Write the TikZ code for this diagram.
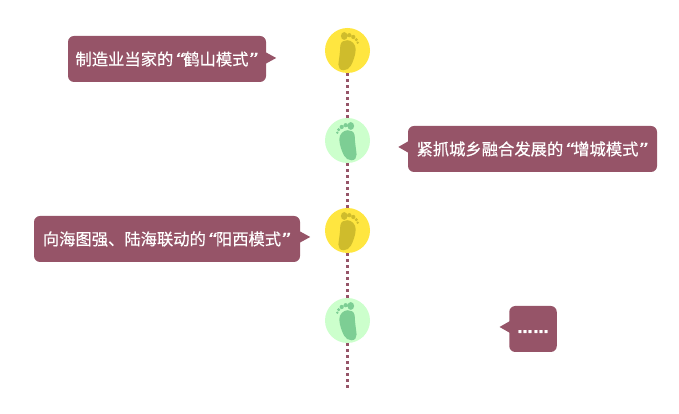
\documentclass[tikz,border=0pt]{standalone}
\usepackage{fontspec}
\newfontfamily\cjk[FakeBold=0.4]{Noto Sans CJK SC}
\newfontfamily\quotefont[FakeBold=0.4]{Liberation Sans}
\newfontfamily\dotsfont[FakeBold=1]{DejaVu Sans Bold}
\usetikzlibrary{calc}
\definecolor{bubblecol}{HTML}{965468}
\definecolor{yellowcol}{HTML}{FFE640}
\definecolor{yellowfoot}{HTML}{CFBC2C}
\definecolor{greencol}{HTML}{CCFFCC}
\definecolor{greenfoot}{HTML}{7DCE94}
\newcommand{\openq}{\makebox[10pt][r]{\scalebox{1.5}[1.1]{\quotefont\itshape “}}}
\newcommand{\closeq}{\makebox[10pt][l]{\scalebox{1.5}[1.1]{\quotefont\itshape ”}}}
\tikzset{
  bubble/.style = {fill = bubblecol, text = white, rounded corners = 6pt, inner sep = 0pt, minimum height = 46pt, font = \cjk\fontsize{16.3pt}{18pt}\selectfont},
  tipfill/.style = {fill = bubblecol},
  stepdisc/.style = {circle, inner sep = 0pt, minimum size = 45pt},
  dotline/.style = {draw = bubblecol, line width = 3pt, dash pattern = on 3pt off 3pt},
  footprint/.pic = {
    \fill (-3.3, 14.5) ellipse (3.3 and 3.9) (1.8, 15.3) circle (2.1) (5.8, 13.5) circle (2.1) (8.8, 10.8) circle (1.7) (10.2, 7.8) circle (1.3);
    \fill (-7.2, 5) .. controls (-6.7, 9) and (-3, 10.5) .. (0, 10.3) .. controls (4, 10) and (8.4, 6.5) .. (8.2, 1) .. controls (8, -5) and (5.5, -11) .. (3.5, -15) .. controls (2, -18) and (-1, -19.8) .. (-4, -19.8) .. controls (-7.5, -19.8) and (-9.3, -17) .. (-9.1, -14) .. controls (-8.8, -10) and (-7.4, -3) .. (-7.2, 5) -- cycle;
  }
}
\begin{document}
\begin{tikzpicture}[x = 1pt, y = 1pt]
\useasboundingbox (0, 0) rectangle (679, 414);
% discs on the line
\node[stepdisc, fill = yellowcol] (disc1) at (347.5, 363.5) {};
\node[stepdisc, fill = greencol] (disc2) at (347.5, 273.5) {};
\node[stepdisc, fill = yellowcol] (disc3) at (347.5, 183.5) {};
\node[stepdisc, fill = greencol] (disc4) at (347.5, 93.5) {};
\coordinate (lineend) at (347.5, 26);
\draw[dotline] (disc1) -- (disc2);
\draw[dotline] (disc2) -- (disc3);
\draw[dotline] (disc3) -- (disc4);
\draw[dotline] (disc4) -- (lineend);
% feet
\pic[yellowfoot] at (disc1.center) {footprint};
\pic[greenfoot, xscale = -1] at (disc2.center) {footprint};
\pic[yellowfoot] at (disc3.center) {footprint};
\pic[greenfoot, xscale = -1] at (disc4.center) {footprint};
% bubbles
\node[bubble, minimum width = 198pt] (bubble1) at (167, 355) {制造业当家的\openq 鹤山模式\closeq};
\node[bubble, minimum width = 249pt] (bubble2) at (532.5, 265) {紧抓城乡融合发展的\openq 增城模式\closeq};
\node[bubble, minimum width = 266pt] (bubble3) at (167, 175) {向海图强、陆海联动的\openq 阳西模式\closeq};
\node[bubble, minimum width = 47.5pt, font = \dotsfont\fontsize{15pt}{18pt}\selectfont] (bubble4) at (533, 85) {\rule{0pt}{8pt}…\kern1pt…};
\fill[tipfill] ($(bubble1.east) + (-1, 7)$) -- ($(bubble1.east) + (10, 1)$) -- ($(bubble1.east) + (-1, -5)$) -- cycle;
\fill[tipfill] ($(bubble2.west) + (1, 8)$) -- ($(bubble2.west) + (-9.5, 2)$) -- ($(bubble2.west) + (1, -4)$) -- cycle;
\fill[tipfill] ($(bubble3.east) + (-1, 8)$) -- ($(bubble3.east) + (10, 2)$) -- ($(bubble3.east) + (-1, -4)$) -- cycle;
\fill[tipfill] ($(bubble4.west) + (1, 8)$) -- ($(bubble4.west) + (-9.5, 2)$) -- ($(bubble4.west) + (1, -4)$) -- cycle;
\end{tikzpicture}
\end{document}
